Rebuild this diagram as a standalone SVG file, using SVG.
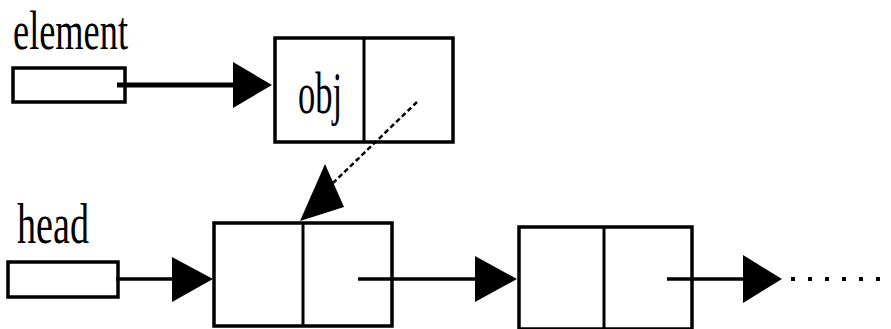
<svg xmlns="http://www.w3.org/2000/svg" width="891" height="329" viewBox="0 0 891 329">
<style>
.lbl{font-family:"Liberation Serif","Times New Roman",serif;fill:#000}
.box{fill:#fff;stroke:#000;stroke-width:3.5}
.div{stroke:#000;stroke-width:3}
.ln{stroke:#000;fill:none}
.ah{fill:#000}
</style>
<rect width="891" height="329" fill="#fff"/>
<g id="element">
<text class="lbl" x="13" y="49" font-size="54" textLength="115" lengthAdjust="spacingAndGlyphs">element</text>
<rect class="box" x="13" y="68" width="112" height="34"/>
</g>
<g id="head">
<text class="lbl" x="17" y="243" font-size="56" textLength="72" lengthAdjust="spacingAndGlyphs">head</text>
<rect class="box" x="8" y="262" width="110" height="35"/>
</g>
<g id="objnode">
<rect class="box" x="275" y="38" width="178" height="104"/>
<line class="div" x1="364" y1="38" x2="364" y2="142"/>
<text class="lbl" x="298" y="113" font-size="60" textLength="44" lengthAdjust="spacingAndGlyphs">obj</text>
</g>
<g id="node1">
<rect class="box" x="214" y="223" width="178" height="103"/>
<line class="div" x1="303" y1="223" x2="303" y2="326"/>
</g>
<g id="node2">
<rect class="box" x="519" y="227" width="173" height="102"/>
<line class="div" x1="604" y1="227" x2="604" y2="329"/>
</g>
<g id="connectors">
<line class="ln" x1="117" y1="85" x2="236" y2="85" stroke-width="5"/>
<polygon class="ah" points="233,62 272,85 233,108"/>
<line class="ln" x1="116" y1="279" x2="175" y2="279" stroke-width="3.5"/>
<polygon class="ah" points="172,257 213,279 172,302"/>
<line class="ln" x1="358" y1="279" x2="478" y2="279" stroke-width="3.5"/>
<polygon class="ah" points="475,256 517,279 475,302"/>
<line class="ln" x1="667" y1="279" x2="746" y2="279" stroke-width="3.5"/>
<polygon class="ah" points="743,255 782,279 743,303"/>
<line class="ln" x1="791" y1="279" x2="884" y2="279" stroke-width="4" stroke-dasharray="4 13"/>
<line class="ln" x1="417" y1="102" x2="333" y2="183" stroke-width="2.5" stroke-dasharray="5 3"/>
<polygon class="ah" points="325,164 344,207 300,221"/>
</g>
</svg>
